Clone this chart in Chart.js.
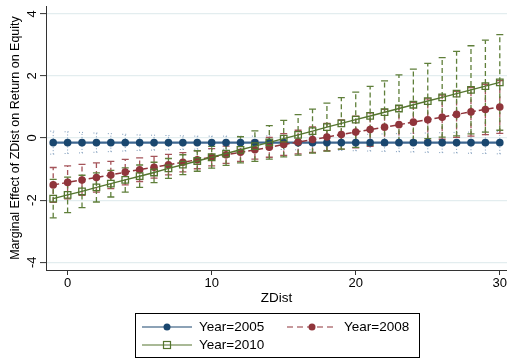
<!DOCTYPE html>
<html><head><meta charset="utf-8">
<script src="https://cdn.jsdelivr.net/npm/chart.js@4.4.1/dist/chart.umd.min.js"></script>
<style>html,body{margin:0;padding:0;background:#fff;}#wrap{width:507px;height:358px;position:relative;}</style>
</head><body><div id="wrap"><canvas id="c" width="507" height="358"></canvas></div>
<script>
const zdist = [-1,0,1,2,3,4,5,6,7,8,9,10,11,12,13,14,15,16,17,18,19,20,21,22,23,24,25,26,27,28,29,30];
const xTicks = [0,10,20,30];
const yTicks = [-4,-2,0,2,4];
const seriesNames = ['Year=2005','Year=2008','Year=2010'];

const y2005 = [-0.15,-0.15,-0.15,-0.15,-0.15,-0.15,-0.15,-0.15,-0.15,-0.15,-0.15,-0.15,-0.15,-0.15,-0.15,-0.15,-0.15,-0.15,-0.15,-0.15,-0.15,-0.15,-0.15,-0.15,-0.15,-0.15,-0.15,-0.15,-0.15,-0.15,-0.15,-0.15];
const lo2005 = [-0.52,-0.50,-0.48,-0.46,-0.44,-0.42,-0.40,-0.39,-0.38,-0.37,-0.36,-0.36,-0.36,-0.36,-0.36,-0.37,-0.37,-0.38,-0.38,-0.39,-0.40,-0.41,-0.42,-0.43,-0.44,-0.45,-0.46,-0.47,-0.48,-0.49,-0.50,-0.51];
const hi2005 = [0.22,0.20,0.18,0.16,0.14,0.12,0.10,0.09,0.08,0.07,0.06,0.06,0.06,0.06,0.06,0.07,0.07,0.08,0.08,0.09,0.10,0.11,0.12,0.13,0.14,0.15,0.16,0.17,0.18,0.19,0.20,0.21];

const y2008 = [-1.51,-1.43,-1.35,-1.27,-1.19,-1.10,-1.02,-0.94,-0.86,-0.78,-0.70,-0.62,-0.54,-0.46,-0.38,-0.30,-0.21,-0.13,-0.05,0.03,0.11,0.19,0.27,0.35,0.43,0.51,0.59,0.67,0.76,0.84,0.92,1.00];
const lo2008 = [-2.07,-1.96,-1.85,-1.74,-1.63,-1.51,-1.40,-1.29,-1.19,-1.09,-0.99,-0.90,-0.82,-0.75,-0.68,-0.62,-0.56,-0.51,-0.46,-0.41,-0.36,-0.32,-0.27,-0.22,-0.18,-0.13,-0.08,-0.04,0.02,0.06,0.11,0.15];
const hi2008 = [-0.95,-0.90,-0.85,-0.80,-0.75,-0.69,-0.64,-0.59,-0.53,-0.47,-0.41,-0.34,-0.26,-0.17,-0.08,0.02,0.14,0.25,0.36,0.47,0.58,0.70,0.81,0.92,1.04,1.15,1.26,1.38,1.50,1.62,1.73,1.85];

const y2010 = [-1.95,-1.83,-1.72,-1.59,-1.47,-1.35,-1.23,-1.11,-0.98,-0.86,-0.74,-0.62,-0.50,-0.38,-0.26,-0.14,-0.02,0.10,0.22,0.35,0.47,0.59,0.71,0.83,0.95,1.07,1.19,1.31,1.43,1.55,1.67,1.79];
const lo2010 = [-2.57,-2.40,-2.24,-2.06,-1.90,-1.74,-1.59,-1.44,-1.30,-1.18,-1.07,-0.97,-0.88,-0.80,-0.75,-0.68,-0.61,-0.55,-0.49,-0.42,-0.36,-0.30,-0.24,-0.18,-0.13,-0.08,-0.02,0.03,0.07,0.13,0.19,0.25];
const hi2010 = [-1.33,-1.26,-1.20,-1.12,-1.04,-0.96,-0.87,-0.78,-0.66,-0.54,-0.41,-0.27,-0.12,0.04,0.23,0.40,0.57,0.75,0.93,1.12,1.30,1.48,1.66,1.84,2.03,2.22,2.40,2.59,2.79,2.97,3.15,3.33];

const FONT = "'Liberation Sans', Arial, Helvetica, sans-serif";
const NAVY = '#1a476f', MAROON = '#90353b', GREEN = '#55752f';

const pts = (ys) => zdist.map((x,i)=>({x:x, y:ys[i]}));

const ciSpecs = [
  {lo:lo2005, hi:hi2005, color:'#7f9cbb', width:1, dash:[1,2], capDash:[1,2], cap:3},
  {lo:lo2008, hi:hi2008, color:'#a5545a', width:1.3, dash:[5,3], capDash:[], cap:3.5},
  {lo:lo2010, hi:hi2010, color:'#5f7f3a', width:1.3, dash:[5,3], capDash:[], cap:3.5}
];

const ciPlugin = {
  id:'ci',
  beforeDatasetsDraw(chart){
    const {ctx, scales:{x, y}} = chart;
    ciSpecs.forEach(spec => {
      ctx.save();
      ctx.strokeStyle = spec.color; ctx.lineWidth = spec.width;
      for (let i=0;i<zdist.length;i++){
        const px = x.getPixelForValue(zdist[i]);
        const pl = y.getPixelForValue(spec.lo[i]), ph = y.getPixelForValue(spec.hi[i]);
        ctx.setLineDash(spec.dash);
        ctx.beginPath(); ctx.moveTo(px, pl); ctx.lineTo(px, ph); ctx.stroke();
        ctx.setLineDash(spec.capDash);
        ctx.beginPath();
        ctx.moveTo(px-spec.cap, pl); ctx.lineTo(px+spec.cap, pl);
        ctx.moveTo(px-spec.cap, ph); ctx.lineTo(px+spec.cap, ph);
        ctx.stroke();
      }
      ctx.restore();
    });
  }
};

const axisLabelPlugin = {
  id:'axislabels',
  afterDraw(chart){
    const {ctx} = chart; const y = chart.scales.y, x = chart.scales.x;
    ctx.save();
    ctx.fillStyle = '#000'; ctx.font = '13px ' + FONT;
    ctx.textAlign = 'center'; ctx.textBaseline = 'middle';
    yTicks.forEach(v => {
      const py = y.getPixelForValue(v);
      ctx.save(); ctx.translate(32, py); ctx.rotate(-Math.PI/2);
      ctx.fillText(String(v), 0, 0); ctx.restore();
    });
    xTicks.forEach(v => {
      ctx.fillText(String(v), x.getPixelForValue(v), 283);
    });
    ctx.restore();
  }
};

const legendPlugin = {
  id:'boxlegend',
  afterDraw(chart){
    const {ctx} = chart;
    ctx.save();
    ctx.strokeStyle = '#000'; ctx.lineWidth = 1; ctx.setLineDash([]);
    ctx.strokeRect(135.5, 313.5, 284, 44);
    ctx.font = '13.5px ' + FONT; ctx.fillStyle = '#000';
    ctx.textAlign = 'left'; ctx.textBaseline = 'middle';
    let yy = 327;
    ctx.strokeStyle = NAVY; ctx.lineWidth = 1.2;
    ctx.beginPath(); ctx.moveTo(142, yy); ctx.lineTo(192, yy); ctx.stroke();
    ctx.fillStyle = NAVY; ctx.beginPath(); ctx.arc(167, yy, 3.5, 0, Math.PI*2); ctx.fill();
    ctx.fillStyle = '#000'; ctx.fillText(seriesNames[0], 199, yy+0.5);
    ctx.strokeStyle = MAROON; ctx.setLineDash([6,4]);
    ctx.beginPath(); ctx.moveTo(287, yy); ctx.lineTo(337, yy); ctx.stroke();
    ctx.setLineDash([]);
    ctx.fillStyle = MAROON; ctx.beginPath(); ctx.arc(312, yy, 3.5, 0, Math.PI*2); ctx.fill();
    ctx.fillStyle = '#000'; ctx.fillText(seriesNames[1], 344, yy+0.5);
    yy = 345;
    ctx.strokeStyle = GREEN;
    ctx.beginPath(); ctx.moveTo(142, yy); ctx.lineTo(192, yy); ctx.stroke();
    ctx.strokeRect(163.5, yy-3.5, 7, 7);
    ctx.fillStyle = '#000'; ctx.fillText(seriesNames[2], 199, yy+0.5);
    ctx.restore();
  }
};

new Chart(document.getElementById('c'), {
  type:'scatter',
  data:{datasets:[
    {label:seriesNames[0], data:pts(y2005), showLine:true, order:3, clip:false,
     borderColor:'#3d6690', borderWidth:2.2, pointStyle:'circle', pointRadius:3.8,
     pointBackgroundColor:NAVY, pointBorderColor:NAVY, pointBorderWidth:0},
    {label:seriesNames[1], data:pts(y2008), showLine:true, order:2, clip:false,
     borderColor:MAROON, borderWidth:1.5, borderDash:[6,3], pointStyle:'circle', pointRadius:3.8,
     pointBackgroundColor:MAROON, pointBorderColor:MAROON, pointBorderWidth:0},
    {label:seriesNames[2], data:pts(y2010), showLine:true, order:1, clip:false,
     borderColor:GREEN, borderWidth:1.4, pointStyle:'rect', pointRadius:4.6,
     pointBackgroundColor:'rgba(255,255,255,0)', pointBorderColor:GREEN, pointBorderWidth:1.3}
  ]},
  options:{
    responsive:false, animation:false, devicePixelRatio:1,
    layout:{autoPadding:false, padding:{top:6,left:0,right:0,bottom:0}},
    plugins:{legend:{display:false}, tooltip:{enabled:false}},
    scales:{
      x:{type:'linear', min:-1.5, max:30.5,
        afterBuildTicks:s=>{s.ticks = xTicks.map(v=>({value:v}));},
        afterFit:s=>{s.height = 88;},
        grid:{drawOnChartArea:false, drawTicks:true, tickLength:5, tickColor:'#333', tickWidth:1},
        border:{display:true, color:'#333', width:1},
        ticks:{display:false},
        title:{display:true, text:'ZDist', color:'#000', font:{size:13.5, family:FONT}, padding:{top:0,bottom:52}}
      },
      y:{type:'linear', min:-4.25, max:4.25,
        afterBuildTicks:s=>{s.ticks = yTicks.map(v=>({value:v}));},
        afterFit:s=>{s.width = 46;},
        grid:{color:'#e3edef', lineWidth:1.2, drawTicks:true, tickLength:6, tickColor:'#333', tickWidth:1},
        border:{display:true, color:'#333', width:1},
        ticks:{display:false},
        title:{display:true, text:'Marginal Effect of ZDist on Return on Equity', color:'#000', font:{size:12.5, family:FONT}, padding:{top:8,bottom:0}}
      }
    }
  },
  plugins:[ciPlugin, axisLabelPlugin, legendPlugin]
});
</script></body></html>
